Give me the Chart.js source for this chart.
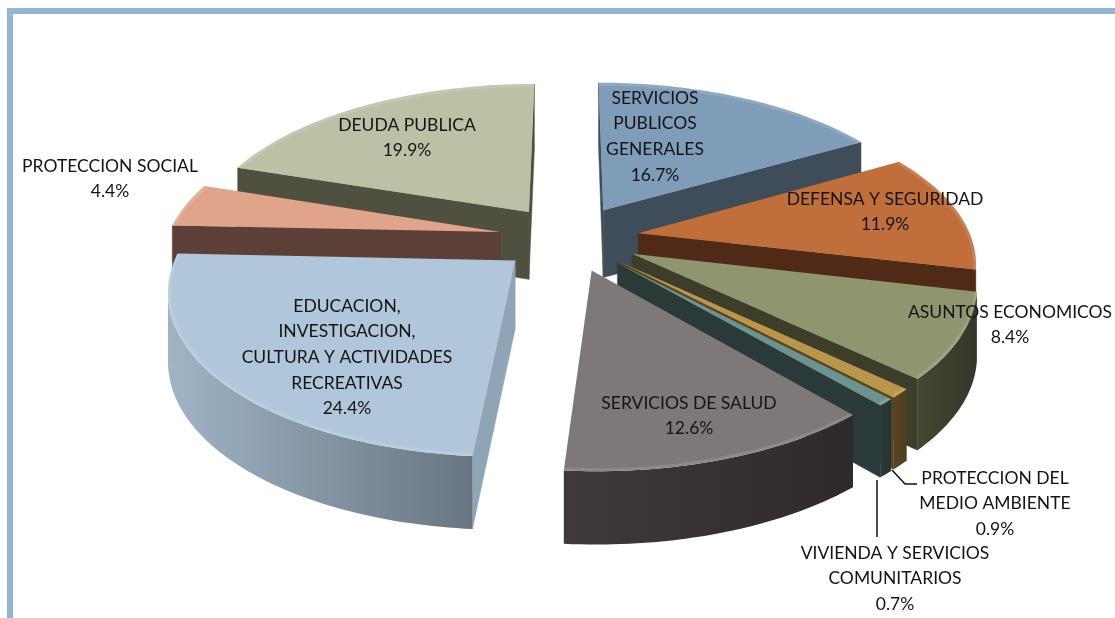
<!DOCTYPE html>
<html><head><meta charset="utf-8">
<style>
html,body{margin:0;padding:0;background:#fff;width:1115px;height:618px;overflow:hidden}
#frame{position:absolute;left:7px;top:8px;width:1108px;height:610px;border-left:6px solid #94b6d4;border-top:6px solid #94b6d4;box-sizing:border-box}
canvas{position:absolute;left:0;top:0}
</style>
<script src="https://cdn.jsdelivr.net/npm/chart.js@4"></script>
</head><body><div id="frame"></div><canvas id="c" width="1115" height="618"></canvas>
<script>
const categories=["SERVICIOS PUBLICOS GENERALES","DEFENSA Y SEGURIDAD","ASUNTOS ECONOMICOS","PROTECCION DEL MEDIO AMBIENTE","VIVIENDA Y SERVICIOS COMUNITARIOS","SERVICIOS DE SALUD","EDUCACION, INVESTIGACION, CULTURA Y ACTIVIDADES RECREATIVAS","PROTECCION SOCIAL","DEUDA PUBLICA"];
const values=[16.7,11.9,8.4,0.9,0.7,12.6,24.4,4.4,19.9];
const topColors=["#7f9db8","#c06f3b","#8f966f","#b8974a","#6b9490","#7e7878","#b0c6da","#e0a48b","#bcc0a5"];
const cutColors=["#3f4d5a","#4f2a16","#3c3e2a","#5a4522","#2a3a38","#3a3434","#8fa5b5","#5c3f36","#4f5040"];
const wallLight=["#46566a","#5a3119","#454731","#5a4522","#2a3a38","#3f3939","#a0b4c6","#5c3f36","#4f5040"];
const wallDark=["#3f4d5a","#4f2a16","#34362a","#4f3d1e","#263432","#2f2a2a","#687682","#5c3f36","#4f5040"];
const labelLines=[["SERVICIOS","PUBLICOS","GENERALES","16.7%"],["DEFENSA Y SEGURIDAD","11.9%"],["ASUNTOS ECONOMICOS","8.4%"],["PROTECCION DEL","MEDIO AMBIENTE","0.9%"],["VIVIENDA Y SERVICIOS","COMUNITARIOS","0.7%"],["SERVICIOS DE SALUD","12.6%"],["EDUCACION,","INVESTIGACION,","CULTURA Y ACTIVIDADES","RECREATIVAS","24.4%"],["PROTECCION SOCIAL","4.4%"],["DEUDA PUBLICA","19.9%"]];
const labelAnchors=[[655,98],[885,199],[1010,312],[995,478],[895,553],[689,403],[347,306],[110,166],[407,125]];

const view={cx:569,cy:238,S:333,T:156.5,q:0.162,d0:46,d1:22};
function project(u,v,down){
  const w=1+view.q*v;
  return [view.cx+view.S*u/w, view.cy-view.T*v/w+(down?view.d0+view.d1/w:0)];
}
function area(p){let s=0;for(let i=0;i<p.length;i++){const a=p[i],b=p[(i+1)%p.length];s+=a[0]*b[1]-b[0]*a[1];}return s/2;}
function poly(ctx,p){ctx.beginPath();p.forEach((q,i)=>i?ctx.lineTo(q[0],q[1]):ctx.moveTo(q[0],q[1]));ctx.closePath();}

const pie3d={id:'pie3d',
  beforeDatasetDraw(chart){
    const ctx=chart.ctx,meta=chart.getDatasetMeta(0);
    const slices=meta.data.map((arc,i)=>{
      const g=arc.getProps(['startAngle','endAngle','outerRadius'],true);
      const mid=(g.startAngle+g.endAngle)/2,off=arc.options.offset/g.outerRadius;
      const ox=off*Math.cos(mid),oy=off*Math.sin(mid);
      const n=Math.max(4,Math.ceil((g.endAngle-g.startAngle)/0.02));
      const rim=[];
      for(let k=0;k<=n;k++){const a=g.startAngle+(g.endAngle-g.startAngle)*k/n;rim.push([ox+Math.cos(a),-(oy+Math.sin(a))]);}
      return {i,mid,apex:[ox,-oy],rim};
    }).sort((a,b)=>Math.sin(a.mid)-Math.sin(b.mid));
    for(const s of slices){
      const topA=project(s.apex[0],s.apex[1],false),botA=project(s.apex[0],s.apex[1],true);
      const topR=s.rim.map(m=>project(m[0],m[1],false)),botR=s.rim.map(m=>project(m[0],m[1],true));
      ctx.save();
      const cut=(t0,b0,t1,b1)=>{const q=[t0,t1,b1,b0];if(area(q)<0){poly(ctx,q);ctx.fillStyle=cutColors[s.i];ctx.fill();ctx.strokeStyle=cutColors[s.i];ctx.lineWidth=.5;ctx.stroke();}};
      cut(topA,botA,topR[0],botR[0]);
      cut(topR[topR.length-1],botR[botR.length-1],topA,botA);
      const vis=[];
      for(let k=0;k<topR.length-1;k++){if(area([topR[k],topR[k+1],botR[k+1],botR[k]])<0)vis.push(k);}
      if(vis.length){
        const f=vis[0],l=vis[vis.length-1]+1;
        const upper=topR.slice(f,l+1),lower=botR.slice(f,l+1).reverse();
        const xs=upper.map(p=>p[0]);
        const gr=ctx.createLinearGradient(Math.min(...xs),0,Math.max(...xs),0);
        gr.addColorStop(0,wallLight[s.i]);gr.addColorStop(1,wallDark[s.i]);
        poly(ctx,upper.concat(lower));ctx.fillStyle=gr;ctx.fill();
      }
      const top=[topA].concat(topR);
      poly(ctx,top);ctx.fillStyle=topColors[s.i];ctx.fill();
      ctx.save();poly(ctx,top);ctx.clip();
      ctx.beginPath();topR.forEach((q,k)=>k?ctx.lineTo(q[0],q[1]):ctx.moveTo(q[0],q[1]));
      ctx.strokeStyle='rgba(255,255,255,.13)';ctx.lineWidth=6;ctx.lineJoin='round';ctx.stroke();
      ctx.restore();
      ctx.restore();
    }
    return false;
  },
  afterDraw(chart){
    const ctx=chart.ctx;
    ctx.save();
    ctx.strokeStyle='#111';ctx.lineWidth=1.5;
    ctx.beginPath();ctx.moveTo(877,480);ctx.lineTo(877,537);ctx.stroke();
    ctx.beginPath();ctx.moveTo(892,470);ctx.lineTo(905,484);ctx.lineTo(917,484);ctx.stroke();
    ctx.font='17.5px Lato';ctx.fillStyle='#141414';ctx.textAlign='center';ctx.textBaseline='middle';
    labelLines.forEach((lines,i)=>{
      lines.forEach((t,k)=>ctx.fillText(t,labelAnchors[i][0],labelAnchors[i][1]+k*25.7));
    });
    ctx.restore();
  }
};
new Chart(document.getElementById('c'),{
  type:'pie',
  data:{labels:categories,datasets:[{data:values,backgroundColor:topColors,borderWidth:0,offset:59}]},
  options:{responsive:false,animation:false,layout:{padding:0},plugins:{legend:{display:false},tooltip:{enabled:false}}},
  plugins:[pie3d]
});
</script></body></html>
